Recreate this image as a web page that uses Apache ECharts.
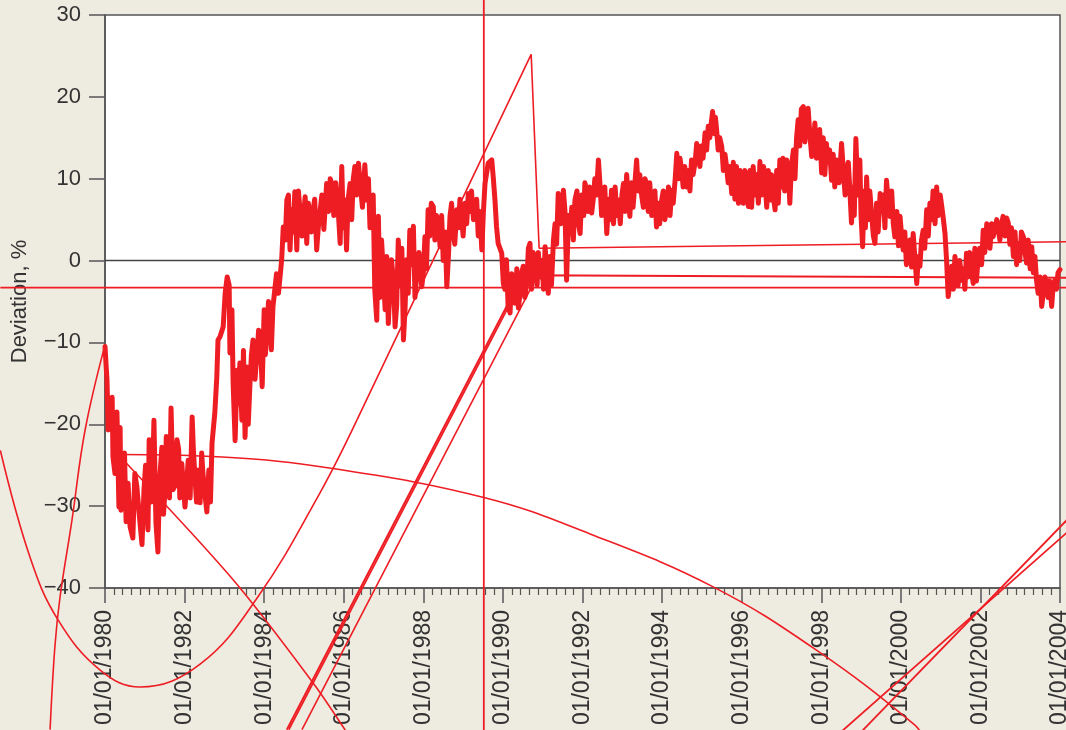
<!DOCTYPE html>
<html>
<head>
<meta charset="utf-8">
<script src="https://cdn.jsdelivr.net/npm/echarts@6/dist/echarts.min.js"></script>
<style>
  html, body { margin: 0; padding: 0; background: #eeebe0; }
  #chart { width: 1066px; height: 730px; }
</style>
</head>
<body>
<div id="chart"></div>
<script>
// Readings of the deviation (%) as [decimal year, value], by period
const dev1980_83 = [
  [1980.00,-10.5],[1980.05,-14.6],[1980.08,-20.7],[1980.18,-16.7],[1980.20,-24.0],[1980.25,-26.0],[1980.30,-18.5],[1980.35,-30.1],[1980.38,-20.4],[1980.45,-26.8],
  [1980.53,-31.9],[1980.58,-27.2],[1980.70,-33.9],[1980.80,-27.6],[1980.93,-34.7],[1980.98,-28.0],[1981.08,-32.9],[1981.11,-21.9],[1981.21,-23.5],[1981.23,-19.5],
  [1981.28,-32.0],[1981.33,-35.6],[1981.43,-22.8],[1981.51,-28.0],[1981.58,-25.2],[1981.66,-18.0],[1981.71,-28.0],[1981.81,-21.9],[1981.88,-29.0],[1981.93,-24.8],
  [1982.01,-30.1],[1982.09,-24.4],[1982.19,-19.1],[1982.26,-26.4],[1982.34,-25.6],[1982.39,-29.6],[1982.46,-25.9],[1982.56,-30.7],[1982.61,-25.6],[1982.69,-22.3],
  [1982.76,-18.6],[1982.81,-14.2],[1982.84,-9.7],[1982.89,-9.3],[1982.97,-8.1],[1983.02,-4.0],[1983.07,-2.0],[1983.12,-3.0],[1983.14,-11.3],[1983.19,-6.0],
  [1983.22,-15.0],[1983.27,-22.0],[1983.32,-13.4],[1983.39,-12.5],[1983.44,-19.5],[1983.52,-21.6],[1983.57,-13.0],[1983.64,-15.4],[1983.72,-9.7],[1983.82,-11.3],
  [1983.90,-9.3],[1983.95,-15.4],
  [1980.40,-30.5],[1980.49,-23.5],[1980.63,-32.5],[1980.75,-26.0],[1980.86,-31.0],[1981.02,-25.0],[1981.16,-29.5],[1981.37,-27.0],[1981.47,-31.0],[1981.54,-21.5],
  [1981.62,-29.0],[1981.76,-27.5],[1981.85,-23.0],[1981.97,-27.5],[1982.05,-27.5],[1982.14,-29.0],[1982.22,-23.0],[1982.30,-29.5],[1982.43,-23.5],[1982.51,-28.5],
  [1982.65,-29.5],[1983.35,-17.5],[1983.48,-11.0],[1983.60,-20.0],[1983.68,-11.5],[1983.77,-14.5],[1983.86,-8.5]
];
const dev1984_87 = [
  [1984.00,-6.0],[1984.07,-8.1],[1984.15,-5.2],[1984.18,-10.9],[1984.22,-5.7],[1984.31,-1.6],[1984.36,-4.0],[1984.44,0.1],[1984.48,4.1],[1984.57,7.4],
  [1984.65,1.3],[1984.69,6.2],[1984.77,8.4],[1984.82,1.3],[1984.90,6.2],[1985.03,7.8],[1985.07,2.1],[1985.15,5.4],[1985.23,6.2],[1985.32,1.3],
  [1985.40,5.8],[1985.57,9.4],[1985.70,9.4],[1985.86,6.2],[1985.91,2.1],[1985.95,11.5],[1986.03,7.4],[1986.07,1.3],[1986.16,9.4],[1986.28,11.5],
  [1986.37,11.9],[1986.53,11.7],[1986.58,7.4],[1986.70,5.0],[1986.78,-3.6],[1986.83,-7.3],[1986.87,5.4],[1986.95,2.5],[1987.04,-6.0],[1987.12,-7.7],
  [1987.20,0.1],[1987.29,-8.1],[1987.37,2.5],[1987.50,-9.7],[1987.58,0.1],[1987.66,3.7],[1987.83,-2.0],[1987.96,-3.2],
  [1984.03,-11.5],[1984.11,-5.0],[1984.53,2.5],[1984.61,8.0],[1984.73,3.5],[1984.86,8.5],[1984.95,3.0],[1985.11,7.0],[1985.19,3.5],[1985.27,7.5],
  [1985.36,4.0],[1985.45,8.0],[1985.50,3.8],[1985.62,6.0],[1985.66,10.0],[1985.75,5.5],[1985.80,9.5],[1985.99,4.0],[1986.11,7.5],[1986.20,5.0],
  [1986.24,10.0],[1986.32,8.0],[1986.42,9.0],[1986.47,6.5],[1986.62,10.0],[1986.66,4.0],[1986.74,8.0],[1986.91,-4.5],[1986.99,-1.0],[1987.08,0.5],
  [1987.16,-3.5],[1987.25,-2.5],[1987.33,-5.5],[1987.42,-3.0],[1987.46,1.5],[1987.54,-6.0],[1987.62,-4.0],[1987.70,-0.5],[1987.75,4.2],[1987.79,-4.5],
  [1987.89,1.0]
];
const dev1988_91 = [
  [1988.04,2.9],[1988.12,6.2],[1988.25,6.6],[1988.42,1.7],[1988.59,-3.2],[1988.67,5.4],[1988.75,3.3],[1988.84,6.2],[1988.96,5.4],[1989.13,8.2],
  [1989.30,6.2],[1989.47,1.3],[1989.55,9.4],[1989.63,11.9],[1989.72,12.3],[1989.80,7.4],[1989.84,4.1],[1989.88,2.1],[1989.97,0.9],[1990.01,-2.8],
  [1990.09,0.1],[1990.13,-5.6],[1990.18,-6.4],[1990.22,-1.6],[1990.30,-5.2],[1990.43,-4.0],[1990.51,-0.7],[1990.60,-2.7],[1990.68,2.1],[1990.81,0.1],
  [1990.93,-2.0],[1991.06,1.7],[1991.14,-4.0],[1991.27,2.5],[1991.39,8.2],[1991.52,8.6],[1991.60,-2.4],[1991.69,3.3],[1991.81,7.4],[1991.94,3.3],
  [1988.00,-1.5],[1988.08,-1.0],[1988.16,3.0],[1988.20,7.0],[1988.29,2.5],[1988.33,5.5],[1988.38,4.5],[1988.46,5.5],[1988.50,0.0],[1988.55,3.5],
  [1988.63,0.5],[1988.71,7.0],[1988.79,2.0],[1988.88,4.0],[1988.92,7.5],[1989.00,3.0],[1989.05,7.0],[1989.09,4.5],[1989.17,6.0],[1989.21,8.5],
  [1989.26,5.0],[1989.34,7.5],[1989.38,3.0],[1989.42,6.0],[1989.51,6.0],[1989.76,10.0],[1990.05,-3.5],[1990.26,-3.0],[1990.35,-1.0],[1990.39,-5.8],
  [1990.47,-1.5],[1990.55,-4.5],[1990.64,1.5],[1990.72,-3.5],[1990.76,1.0],[1990.86,-3.0],[1990.89,1.0],[1990.98,0.0],[1991.02,-3.5],[1991.10,-1.0],
  [1991.18,0.5],[1991.22,-3.0],[1991.31,4.5],[1991.35,2.0],[1991.45,4.5],[1991.56,6.0],[1991.65,5.5],[1991.73,6.5],[1991.77,2.5],[1991.86,8.5],
  [1991.90,4.5],[1991.98,8.0]
];
const dev1992_95 = [
  [1992.10,8.6],[1992.23,5.8],[1992.40,12.3],[1992.52,7.4],[1992.61,3.3],[1992.73,8.6],[1992.90,7.4],[1993.03,9.4],[1993.19,5.4],[1993.36,12.3],
  [1993.49,7.8],[1993.61,9.4],[1993.78,7.8],[1993.86,4.1],[1993.99,7.4],[1994.12,6.6],[1994.24,8.6],[1994.37,13.1],[1994.49,11.1],[1994.62,9.0],
  [1994.74,12.3],[1994.87,14.3],[1994.95,11.5],[1995.08,15.6],[1995.16,16.4],[1995.27,18.2],[1995.37,16.0],[1995.50,13.9],[1995.62,11.5],[1995.75,8.2],
  [1995.87,11.5],
  [1992.03,5.5],[1992.06,9.5],[1992.14,6.0],[1992.18,9.0],[1992.27,7.5],[1992.31,10.0],[1992.35,8.0],[1992.45,8.5],[1992.48,5.5],[1992.56,9.0],
  [1992.66,7.5],[1992.69,5.0],[1992.78,4.5],[1992.82,9.0],[1992.86,5.5],[1992.95,4.5],[1992.99,8.0],[1993.07,6.0],[1993.11,10.5],[1993.15,7.5],
  [1993.23,9.5],[1993.27,6.5],[1993.31,9.0],[1993.40,8.5],[1993.44,10.5],[1993.53,6.5],[1993.57,10.0],[1993.65,6.0],[1993.69,9.5],[1993.74,5.5],
  [1993.82,8.5],[1993.90,7.0],[1993.94,4.5],[1994.03,8.5],[1994.07,5.0],[1994.16,9.0],[1994.20,5.5],[1994.28,7.0],[1994.33,10.0],[1994.41,10.0],
  [1994.45,12.5],[1994.53,9.0],[1994.57,11.5],[1994.66,11.0],[1994.70,8.5],[1994.78,10.5],[1994.83,12.0],[1994.91,13.5],[1994.99,14.0],[1995.03,12.5],
  [1995.12,13.5],[1995.20,15.0],[1995.24,17.0],[1995.31,15.5],[1995.34,17.5],[1995.41,13.5],[1995.45,15.0],[1995.54,11.0],[1995.58,13.0],[1995.66,9.5],
  [1995.70,11.5],[1995.79,12.0],[1995.83,7.5],[1995.92,7.0],[1995.96,11.0]
];
const dev1996_99 = [
  [1996.00,9.0],[1996.17,6.6],[1996.29,11.5],[1996.46,12.1],[1996.59,9.4],[1996.71,7.4],[1996.84,6.2],[1996.96,12.3],[1997.13,12.3],[1997.21,7.0],
  [1997.30,13.5],[1997.42,17.2],[1997.55,18.8],[1997.67,18.6],[1997.76,12.7],[1997.84,16.8],[1997.92,15.6],[1998.01,10.7],[1998.13,14.3],[1998.26,9.8],
  [1998.38,12.3],[1998.51,14.3],[1998.64,11.1],[1998.76,4.6],[1998.87,14.9],[1998.97,12.3],[1999.04,1.7],[1999.14,10.2],[1999.27,5.4],[1999.35,2.1],
  [1999.48,8.2],[1999.64,9.8],[1999.73,5.4],[1999.85,2.9],[1999.98,5.4],
  [1996.04,7.0],[1996.08,11.0],[1996.12,8.0],[1996.21,11.0],[1996.25,6.5],[1996.33,8.0],[1996.38,10.5],[1996.42,7.0],[1996.50,8.0],[1996.55,11.5],
  [1996.63,6.5],[1996.67,11.0],[1996.75,10.5],[1996.79,8.0],[1996.88,11.0],[1996.92,7.0],[1997.00,9.0],[1997.04,12.5],[1997.08,8.5],[1997.17,11.5],
  [1997.25,11.5],[1997.34,10.0],[1997.38,15.0],[1997.46,14.0],[1997.50,18.5],[1997.59,14.5],[1997.63,18.0],[1997.72,15.0],[1997.80,14.0],[1997.88,12.5],
  [1997.96,16.0],[1998.05,15.0],[1998.09,10.5],[1998.17,12.0],[1998.21,13.5],[1998.30,13.0],[1998.34,9.0],[1998.45,9.5],[1998.57,10.0],[1998.60,8.0],
  [1998.68,12.0],[1998.72,8.5],[1998.80,9.0],[1998.83,5.5],[1998.92,8.0],[1999.00,5.5],[1999.08,8.5],[1999.11,4.0],[1999.18,5.0],[1999.22,8.5],
  [1999.31,3.0],[1999.39,7.0],[1999.43,3.5],[1999.52,6.0],[1999.56,8.0],[1999.60,4.0],[1999.68,7.5],[1999.77,8.5],[1999.81,4.5],[1999.90,6.0],
  [1999.94,1.8]
];
const dev2000_03 = [
  [2000.06,1.3],[2000.19,0.5],[2000.31,3.3],[2000.40,-2.8],[2000.48,-0.7],[2000.56,3.7],[2000.65,6.2],[2000.77,5.0],[2000.90,9.0],[2001.03,6.6],
  [2001.11,3.3],[2001.19,-4.4],[2001.28,-0.7],[2001.40,-1.1],[2001.53,-2.4],[2001.65,0.9],[2001.82,-2.8],[2001.94,0.1],[2002.07,3.7],[2002.20,4.1],
  [2002.32,2.9],[2002.45,3.7],[2002.57,5.4],[2002.70,4.6],[2002.83,0.5],[2002.95,2.1],[2003.08,2.9],[2003.16,-0.3],[2003.29,1.7],[2003.41,-2.4],
  [2003.54,-5.6],[2003.66,-2.8],[2003.79,-5.6],[2003.87,-2.4],[2004.00,-1.1],
  [2000.02,3.0],[2000.10,3.5],[2000.14,-0.5],[2000.23,2.5],[2000.27,-0.8],[2000.35,0.5],[2000.44,0.5],[2000.52,2.5],[2000.60,1.5],[2000.69,3.0],
  [2000.73,7.0],[2000.81,8.5],[2000.86,4.5],[2000.94,5.5],[2000.99,8.0],[2001.07,5.0],[2001.15,0.0],[2001.24,-2.5],[2001.32,-3.5],[2001.36,0.5],
  [2001.44,-3.0],[2001.48,0.0],[2001.57,-1.0],[2001.61,-3.5],[2001.69,-2.0],[2001.73,1.0],[2001.78,-1.5],[2001.86,1.5],[2001.90,-2.5],[2001.98,1.5],
  [2002.03,-0.5],[2002.11,1.0],[2002.16,4.5],[2002.24,1.5],[2002.28,4.5],[2002.37,3.0],[2002.41,5.0],[2002.49,2.5],[2002.53,4.5],[2002.62,3.0],
  [2002.66,5.2],[2002.74,2.0],[2002.78,4.0],[2002.87,3.5],[2002.91,-0.5],[2002.99,0.0],[2003.03,3.5],[2003.12,1.0],[2003.20,2.5],[2003.25,-1.0],
  [2003.33,-1.5],[2003.37,0.5],[2003.45,-4.0],[2003.50,-2.0],[2003.58,-4.0],[2003.62,-2.0],[2003.70,-4.5],[2003.74,-2.5],[2003.83,-3.0],[2003.91,-3.5],
  [2003.95,-1.5]
];

// Stray connector strokes visible in the picture, as [year, value]
const strayA = [[1980.00,-10.3],[1979.50,-20.7],[1979.17,-31.7],[1978.87,-41.1],[1978.74,-47.2],[1978.62,-57.3]];
const strayBCurve = [[1977.37,-23.2],[1978.12,-36.3],[1978.82,-43.9],[1979.87,-50.0],[1980.88,-52.1],[1982.39,-49.3],[1983.84,-41.1],[1985.40,-28.4],[1986.33,-19.5]];
const strayBLine = [[1986.33,-19.5],[1990.71,25.2],[1990.91,1.5],[2004.25,2.3]];
const strayC = [[1980.33,-23.7],[1982.95,-24.0],[1985.72,-25.4],[1989.57,-29.0],[1992.19,-33.4],[1995.26,-39.8],[1997.88,-47.6],[2000.34,-56.7],[2000.61,-58.6]];
const strayD = [[1980.33,-23.7],[1983.22,-39.0],[1985.23,-51.6],[1986.03,-57.3],[1986.28,-59.3]];
const strayE1 = [[1984.57,-57.3],[1990.50,-1.8],[2004.25,-2.1]];
const strayE2 = [[1984.62,-57.3],[1990.72,-0.2]];
const strayE3 = [[1984.95,-57.3],[1990.71,-3.3]];
const strayH = [[1977.37,-3.3],[2004.25,-3.3]];
const strayV = [[1989.52,36],[1989.52,-62]];
const strayG1 = [[1998.40,-58.0],[2004.25,-32.9]];
const strayG2 = [[1998.90,-58.1],[2004.25,-31.3]];
const zeroLine = [[1980,0],[2004,0]];

const RED = '#ee1d24';
const AXIS = '#555';
const TEXT = '#333';
const FONT = 'Liberation Sans, Arial, sans-serif';

// layout of the plot inside the 1066x730 page
const W = 1066, H = 730, L = 105, R = 6, T = 15, B = 142;
const X0 = 1980, X1 = 2004, Y0 = -40, Y1 = 30;
// a hidden full-page coordinate system with the same scale, for strokes that leave the plot
const pxPerYear = (W - L - R) / (X1 - X0);
const pxPerUnit = (H - T - B) / (Y1 - Y0);
const pageXMin = X0 - L / pxPerYear, pageXMax = X1 + R / pxPerYear;
const pageYMin = Y0 - B / pxPerUnit, pageYMax = Y1 + T / pxPerUnit;

const mainData = [].concat(dev1980_83, dev1984_87, dev1988_91, dev1992_95, dev1996_99, dev2000_03)
  .sort((a, b) => a[0] - b[0]);

function stray(data, smooth, width) {
  return {
    type: 'line', data: data, symbol: 'none', smooth: smooth || false,
    xAxisIndex: 1, yAxisIndex: 1,
    clip: false, silent: true, z: 3,
    lineStyle: { color: RED, width: width || 1.6 }
  };
}

const chart = echarts.init(document.getElementById('chart'), null, { renderer: 'canvas' });
chart.setOption({
  animation: false,
  backgroundColor: '#eeebe0',
  grid: [
    { left: L, right: R, top: T, bottom: B,
      show: true, backgroundColor: '#ffffff', borderColor: AXIS, borderWidth: 1.5,
      containLabel: false, outerBoundsMode: 'none' },
    { left: 0, right: 0, top: 0, bottom: 0, show: false,
      containLabel: false, outerBoundsMode: 'none' }
  ],
  xAxis: [{
    type: 'value', min: X0, max: X1, interval: 2, gridIndex: 0,
    axisLine: { show: true, onZero: false, lineStyle: { color: AXIS, width: 1.5 } },
    axisTick: { show: true, length: 15, lineStyle: { color: AXIS, width: 1.5 } },
    minorTick: { show: true, splitNumber: 9, length: 7, lineStyle: { color: AXIS, width: 1.2 } },
    splitLine: { show: false },
    axisLabel: {
      rotate: 90, margin: 22, fontSize: 23, color: TEXT, fontFamily: FONT,
      showMinLabel: true, showMaxLabel: true,
      formatter: v => '01/01/' + v
    }
  }, {
    type: 'value', min: pageXMin, max: pageXMax, gridIndex: 1, show: false
  }],
  yAxis: [{
    type: 'value', min: Y0, max: Y1, interval: 10, gridIndex: 0,
    name: 'Deviation, %', nameLocation: 'middle', nameGap: 74,
    nameTextStyle: { fontSize: 22, color: TEXT, fontFamily: FONT },
    axisLine: { show: true, onZero: false, lineStyle: { color: AXIS, width: 1.5 } },
    axisTick: { show: true, length: 16, lineStyle: { color: AXIS, width: 1.5 } },
    splitLine: { show: false },
    axisLabel: {
      margin: 24, fontSize: 22, color: TEXT, fontFamily: FONT,
      formatter: v => v < 0 ? '\u2212' + Math.abs(v) : String(v)
    }
  }, {
    type: 'value', min: pageYMin, max: pageYMax, gridIndex: 1, show: false
  }],
  series: [
    { type: 'line', data: zeroLine, symbol: 'none', silent: true, z: 1,
      lineStyle: { color: '#444', width: 1.5 } },
    { type: 'line', name: 'Deviation', data: mainData,
      symbol: 'none', z: 2,
      lineStyle: { color: RED, width: 5, cap: 'round', join: 'round' } },
    stray(strayA, 0.4),
    stray(strayBCurve, 0.4),
    stray(strayBLine, false),
    stray(strayC, 0.4),
    stray(strayD, 0.3),
    stray(strayE1, false, 2),
    stray(strayE2, false, 1.8),
    stray(strayE3, false, 1.6),
    stray(strayH, false, 1.6),
    stray(strayV, false, 1.8),
    stray(strayG1, false, 1.8),
    stray(strayG2, false, 1.8)
  ]
});
</script>
</body>
</html>
